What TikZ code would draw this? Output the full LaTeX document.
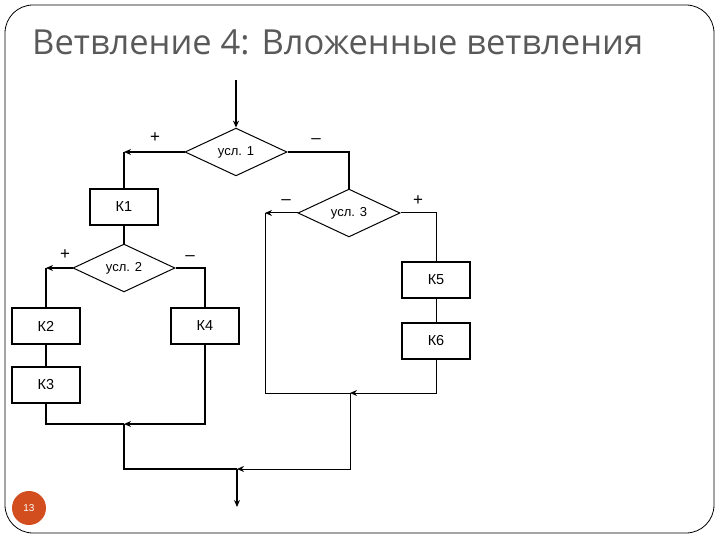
\documentclass[tikz,border=0pt]{standalone}
\usepackage{fontspec}
\setmainfont{Liberation Sans}
\newfontfamily\titlefont{Open Sans}
\usepackage{tikz}
\usetikzlibrary{shapes.geometric, arrows.meta, positioning}
\definecolor{titlegray}{RGB}{89,89,89}
\definecolor{pagered}{RGB}{210,78,30}

\tikzset{
	cond/.style={draw, diamond, line width=1pt, inner sep=0pt, minimum width=102pt, minimum height=46pt, font=\fontsize{13}{15}\selectfont},
	blk/.style={draw, rectangle, line width=1.5pt, inner sep=0pt, minimum width=68pt, minimum height=36pt, font=\fontsize{14.5}{16}\selectfont},
	flow/.style={line width=1.6pt},
	arr/.style={flow, -{Stealth[length=7pt, width=6pt]}},
	sign/.style={font=\fontsize{17}{19}\selectfont}
}

\begin{document}
\begin{tikzpicture}[x=1pt, y=-1pt]
	\useasboundingbox (0,0) rectangle (720,540);
	\draw[line width=0.8pt, rounded corners=28pt] (5,5) rectangle (714,533);
	\node[anchor=base west, inner sep=0pt, text=titlegray, font=\titlefont\fontsize{34.5}{40}\selectfont] (title) at (32,55) {Ветвление 4: Вложенные ветвления};

	% conditions and blocks
	\node[cond] (d1) at (236,152) {усл. 1};
	\node[cond] (d2) at (124,268) {усл. 2};
	\node[cond] (d3) at (349,213) {усл. 3};
	\node[blk] (k1) at (124,207) {К1};
	\node[blk] (k2) at (46,326) {К2};
	\node[blk] (k3) at (46,385) {К3};
	\node[blk] (k4) at (205,326) {К4};
	\node[blk] (k5) at (436,280) {К5};
	\node[blk] (k6) at (436,341) {К6};

	% corners and joins
	\coordinate (in) at (236,80);
	\coordinate (c1l) at (124,152);
	\coordinate (c1r) at (349,152);
	\coordinate (c2l) at (46,268);
	\coordinate (c2r) at (205,268);
	\coordinate (c3l) at (265,213);
	\coordinate (c3r) at (436,213);
	\coordinate (j2l) at (46,424);
	\coordinate (j2) at (124,424);
	\coordinate (j2r) at (205,424);
	\coordinate (j3l) at (265,393);
	\coordinate (j3) at (350,393);
	\coordinate (j3r) at (436,393);
	\coordinate (j4l) at (124,469);
	\coordinate (j4) at (237,469);
	\coordinate (j4r) at (350,469);
	\coordinate (out) at (237,507);

	\draw[arr] (in) -- (d1.north);
	\draw[arr] (d1.west) -- (c1l);
	\draw[flow] (c1l) -- (k1.north);
	\draw[flow] (d1.east) -- (c1r) -- (d3.north);
	\draw[flow] (k1.south) -- (d2.north);

	\draw[arr] (d2.west) -- (c2l);
	\draw[flow] (c2l) -- (k2.north);
	\draw[flow] (d2.east) -- (c2r) -- (k4.north);
	\draw[flow] (k2.south) -- (k3.north);
	\draw[flow] (k3.south) -- (j2l) -- (j2);
	\draw[arr] (k4.south) -- (j2r) -- (j2);

	\draw[arr, line width=1pt] (d3.west) -- (c3l);
	\draw[line width=1pt] (c3l) -- (j3l) -- (j3);
	\draw[line width=1pt] (d3.east) -- (c3r) -- (k5.north);
	\draw[line width=1pt] (k5.south) -- (k6.north);
	\draw[arr, line width=1pt] (k6.south) -- (j3r) -- (j3);

	\draw[flow] (j2) -- (j4l) -- (j4);
	\draw[arr, line width=1pt] (j3) -- (j4r) -- (j4);
	\draw[arr] (j4) -- (out);

	% branch signs
	\node[sign] (p1) at (155,138) {+};
	\node[sign] (m1) at (316,141) {--};
	\node[sign] (p2) at (65,255) {+};
	\node[sign] (m2) at (190,258) {--};
	\node[sign] (m3) at (286,202) {--};
	\node[sign] (p3) at (418,201) {+};

	\node[circle, fill=pagered, minimum size=34pt, inner sep=0pt, text=white, font=\fontsize{10}{12}\selectfont] (page) at (29,508) {13};
\end{tikzpicture}
\end{document}
